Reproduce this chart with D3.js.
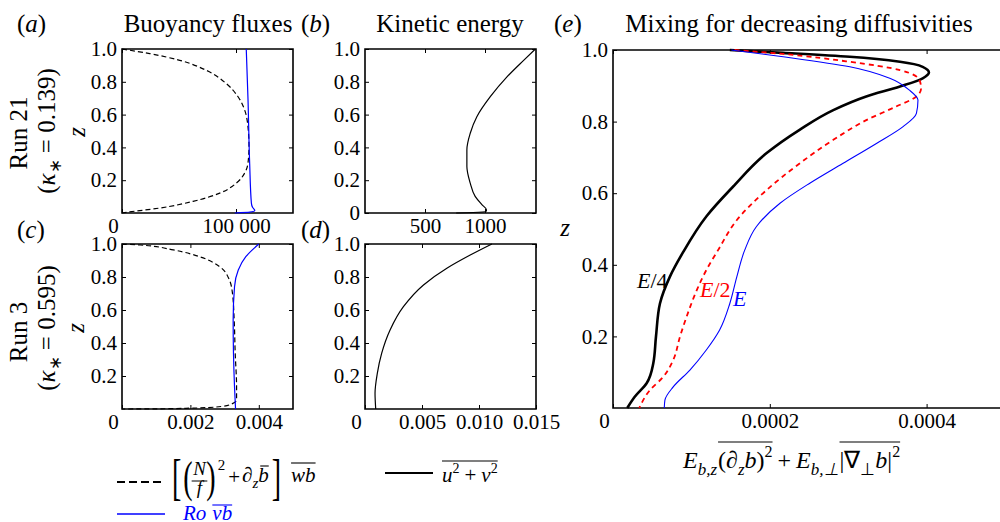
<!DOCTYPE html>
<html>
<head>
<meta charset="utf-8">
<script src="https://cdn.jsdelivr.net/npm/d3@7"></script>
<style>
  body { margin: 0; background: #fff; }
  svg { display: block; }
</style>
</head>
<body>
<div id="chart"></div>
<script>
// profiles, as [x, z] pairs, listed from z = 1 down to z = 0

// (a) Run 21 buoyancy fluxes
const run21Buoy = [[0, 1], [24300, 0.972], [50600, 0.931], [74000, 0.870], [91500, 0.789], [101800, 0.709],
  [107600, 0.628], [110500, 0.526], [111400, 0.405], [110500, 0.304], [107600, 0.243], [100300, 0.182],
  [85700, 0.121], [62300, 0.071], [33000, 0.030], [3800, 0.004], [0, 0]];
const run21Ro = [[109000, 1], [110500, 0.7], [112000, 0.3], [113500, 0.06], [114500, 0.035],
  [116500, 0.015], [112000, 0.005], [99000, 0]];

// (b) Run 21 kinetic energy
const run21KE = [[1420, 1.0], [1322, 0.931], [1183, 0.83], [1044, 0.709], [932, 0.587], [877, 0.486],
  [849, 0.385], [849, 0.283], [877, 0.182], [918, 0.101], [974, 0.051], [1012, 0.02], [1010, 0.01],
  [900, 0.003], [760, 0]];

// (c) Run 3 buoyancy fluxes
const run3Buoy = [[0, 1], [0.00053, 0.994], [0.0015, 0.964], [0.00227, 0.923], [0.00285, 0.863],
  [0.00314, 0.782], [0.00323, 0.701], [0.00328, 0.539], [0.00331, 0.337], [0.00335, 0.135],
  [0.00335, 0.055], [0.0032, 0.03], [0.0029, 0.015], [0.002, 0.005], [0.001, 0.001], [0, 0]];
const run3Ro = [[0.004, 1], [0.00362, 0.923], [0.0034, 0.842], [0.00329, 0.741], [0.00325, 0.539],
  [0.00326, 0.337], [0.00329, 0.135], [0.00332, 0]];

// (d) Run 3 kinetic energy
const run3KE = [[0.01113, 1.0], [0.00923, 0.933], [0.00718, 0.853], [0.00513, 0.752], [0.00337, 0.62],
  [0.0022, 0.479], [0.00146, 0.337], [0.00108, 0.216], [0.00088, 0.095], [0.00094, 0]];

// (e) mixing, x values in units of 1e-4
const mixQuarter = [[1.49, 1.0], [2.17, 0.992], [3.02, 0.981], [3.66, 0.967], [3.95, 0.953], [4.03, 0.937],
  [3.95, 0.921], [3.66, 0.898], [3.23, 0.87], [2.81, 0.832], [2.38, 0.777], [1.96, 0.712], [1.53, 0.618],
  [1.19, 0.535], [0.896, 0.436], [0.726, 0.367], [0.599, 0.292], [0.548, 0.199], [0.514, 0.125],
  [0.429, 0.069], [0.28, 0.032], [0.182, 0]];
const mixHalf = [[1.55, 1.0], [2.17, 0.989], [3.02, 0.967], [3.66, 0.944], [3.91, 0.916], [3.93, 0.893],
  [3.87, 0.87], [3.61, 0.842], [3.23, 0.804], [2.81, 0.749], [2.38, 0.683], [1.96, 0.609], [1.58, 0.525],
  [1.34, 0.441], [1.19, 0.385], [1.07, 0.33], [0.939, 0.255], [0.854, 0.199], [0.768, 0.134],
  [0.641, 0.087], [0.471, 0.05], [0.335, 0]];
const mixFull = [[1.51, 1.0], [2.17, 0.981], [3.02, 0.953], [3.53, 0.921], [3.78, 0.888], [3.89, 0.86],
  [3.87, 0.823], [3.70, 0.786], [3.36, 0.739], [2.93, 0.683], [2.51, 0.628], [2.13, 0.572], [1.83, 0.507],
  [1.68, 0.441], [1.58, 0.367], [1.49, 0.292], [1.36, 0.218], [1.19, 0.162], [0.981, 0.106],
  [0.768, 0.059], [0.662, 0.022], [0.654, 0]];

// ticks
const zTicks = [0.2, 0.4, 0.6, 0.8, 1.0];
const zTicksWithZero = [0, 0.2, 0.4, 0.6, 0.8, 1.0];
const ticksA = [0, 100000];
const ticksB = [500, 1000];
const ticksC = [0, 0.002, 0.004];
const ticksD = [0, 0.005, 0.010, 0.015];
const ticksE = [0, 2, 4];   // x 1e-4

const FONT = "'Liberation Serif', 'Times New Roman', serif";
const W = 1000, H = 522;

const svg = d3.select("#chart").append("svg")
  .attr("width", W).attr("height", H)
  .attr("font-family", FONT);
svg.append("rect").attr("width", W).attr("height", H).attr("fill", "#fff");

const zFmt = d => d === 0 ? "0" : d3.format(".1f")(d);

function makePanel(cfg) {
  const x = d3.scaleLinear().domain(cfg.xDomain).range([cfg.left, cfg.right]);
  const y = d3.scaleLinear().domain([0, 1]).range([cfg.bottom, cfg.top]);
  const g = svg.append("g");

  const bottom = g.append("g").attr("transform", `translate(0,${cfg.bottom})`)
    .call(d3.axisBottom(x).tickValues(cfg.xTicks).tickFormat(cfg.xFormat).tickSize(-4).tickPadding(5));
  g.append("g").attr("transform", `translate(0,${cfg.top})`)
    .call(d3.axisTop(x).tickValues(cfg.xTicks).tickFormat("").tickSize(-4));
  g.append("g").attr("transform", `translate(${cfg.left},0)`)
    .call(d3.axisLeft(y).tickValues(cfg.yTicks).tickFormat(zFmt).tickSize(-4).tickPadding(5));
  if (!cfg.openRight) {
    g.append("g").attr("transform", `translate(${cfg.right},0)`)
      .call(d3.axisRight(y).tickValues(cfg.yTicks).tickFormat("").tickSize(-4));
  }
  g.selectAll(".domain").remove();
  g.selectAll(".tick line").attr("stroke", "#000").attr("stroke-width", 1);
  g.selectAll(".tick text").attr("font-family", FONT).attr("font-size", 21).attr("fill", "#000");
  g.selectAll("g").attr("font-family", null).attr("font-size", null);
  // the zero on the x axis sits a little left of the corner
  bottom.selectAll(".tick text").filter(d => d === 0).attr("x", -9);

  // frame
  const frame = g.append("path")
    .attr("fill", "none").attr("stroke", "#000").attr("stroke-width", 1.6);
  if (cfg.openRight) {
    frame.attr("d", `M${cfg.right},${cfg.top}H${cfg.left}V${cfg.bottom}H${cfg.right}`);
  } else {
    frame.attr("d", `M${cfg.left},${cfg.top}H${cfg.right}V${cfg.bottom}H${cfg.left}Z`);
  }

  const line = d3.line().x(d => x(d[0])).y(d => y(d[1])).curve(d3.curveMonotoneY);
  cfg.series.forEach(s => {
    g.append("path").datum(s.data)
      .attr("fill", "none")
      .attr("stroke", s.color)
      .attr("stroke-width", s.width)
      .attr("stroke-dasharray", s.dash || null)
      .attr("d", line);
  });
  return { x, y, g };
}

makePanel({
  left: 122, right: 293, top: 49, bottom: 213, xDomain: [0, 150000],
  xTicks: ticksA, xFormat: d => d === 0 ? "0" : "100 000", yTicks: zTicks,
  series: [
    { data: run21Buoy, color: "#000", width: 1.2, dash: "5,3" },
    { data: run21Ro, color: "#0000ff", width: 1.2 }
  ]
});
makePanel({
  left: 365, right: 536, top: 49, bottom: 213, xDomain: [0, 1425],
  xTicks: ticksB, xFormat: d3.format("d"), yTicks: zTicksWithZero,
  series: [{ data: run21KE, color: "#000", width: 1.2 }]
});
makePanel({
  left: 122, right: 293, top: 244, bottom: 409, xDomain: [0, 0.005],
  xTicks: ticksC, xFormat: d => d === 0 ? "0" : d3.format(".3f")(d), yTicks: zTicks,
  series: [
    { data: run3Buoy, color: "#000", width: 1.2, dash: "5,3" },
    { data: run3Ro, color: "#0000ff", width: 1.2 }
  ]
});
makePanel({
  left: 365, right: 536, top: 244, bottom: 409, xDomain: [0, 0.015],
  xTicks: ticksD, xFormat: d => d === 0 ? "0" : d3.format(".3f")(d), yTicks: zTicks,
  series: [{ data: run3KE, color: "#000", width: 1.2 }]
});
makePanel({
  left: 613, right: 1005, top: 50, bottom: 408, xDomain: [0, 5], openRight: true,
  xTicks: ticksE, xFormat: d => d === 0 ? "0" : d3.format(".4f")(d * 1e-4), yTicks: zTicks,
  series: [
    { data: mixQuarter, color: "#000", width: 2.6 },
    { data: mixHalf, color: "#ff0000", width: 1.8, dash: "5,4" },
    { data: mixFull, color: "#0000ff", width: 1.1 }
  ]
});

// ---- text helpers ----
function label(x, y, parts, opts = {}) {
  const t = svg.append("text")
    .attr("x", x).attr("y", y)
    .attr("font-size", opts.size || 25)
    .attr("fill", opts.color || "#000")
    .attr("text-anchor", opts.anchor || "start");
  if (opts.rotate) t.attr("x", 0).attr("y", 0).attr("transform", `translate(${x},${y}) rotate(-90)`);
  parts.forEach(p => {
    const s = t.append("tspan").text(p.t);
    if (p.it) s.attr("font-style", "italic");
    if (p.size) s.attr("font-size", p.size);
    if (p.dy) s.attr("dy", p.dy);
  });
  return t;
}

// run pieces left to right, measuring each one; returns the x extents of every piece
function typeset(x0, y0, pieces, size, color) {
  const g = svg.append("g").attr("fill", color);
  let x = x0;
  const ext = [];
  pieces.forEach(p => {
    if (p.frac) {
      const fs = p.size || size;
      const a = g.append("text").attr("font-size", fs).attr("font-style", "italic")
        .attr("text-anchor", "middle").text(p.frac[0]);
      const b = g.append("text").attr("font-size", fs).attr("font-style", "italic")
        .attr("text-anchor", "middle").text(p.frac[1]);
      const w = Math.max(a.node().getComputedTextLength(), b.node().getComputedTextLength()) + 3;
      a.attr("x", x + w / 2).attr("y", y0 + p.up);
      b.attr("x", x + w / 2).attr("y", y0 + p.down);
      g.append("line").attr("x1", x).attr("x2", x + w).attr("y1", y0 + p.bar).attr("y2", y0 + p.bar)
        .attr("stroke", color).attr("stroke-width", 1);
      ext.push([x, x + w]);
      x += w + (p.gap || 0);
      return;
    }
    const t = g.append("text").attr("font-size", p.size || size).text(p.t);
    if (p.sy) {
      t.attr("transform", `translate(${x},${y0 + (p.dy || 0)}) scale(1,${p.sy})`);
    } else {
      t.attr("x", x).attr("y", y0 + (p.dy || 0));
    }
    if (p.it) t.attr("font-style", "italic");
    const w = t.node().getComputedTextLength();
    ext.push([x, x + w]);
    x += w + (p.gap || 0);
  });
  return { g, ext };
}
function overline(g, ext, i0, i1, y, color, pad = 0) {
  g.append("line").attr("x1", ext[i0][0] + pad).attr("x2", ext[i1][1]).attr("y1", y).attr("y2", y)
    .attr("stroke", color).attr("stroke-width", 1.1);
}

// panel letters and titles
label(17, 32, [{ t: "(" }, { t: "a", it: true }, { t: ")" }]);
label(208, 32, [{ t: "Buoyancy fluxes" }], { anchor: "middle" });
label(301, 32, [{ t: "(" }, { t: "b", it: true }, { t: ")" }]);
label(450, 32, [{ t: "Kinetic energy" }], { anchor: "middle" });
label(554, 32, [{ t: "(" }, { t: "e", it: true }, { t: ")" }]);
label(799, 32, [{ t: "Mixing for decreasing diffusivities" }], { anchor: "middle" });
label(17, 238, [{ t: "(" }, { t: "c", it: true }, { t: ")" }]);
label(301, 238, [{ t: "(" }, { t: "d", it: true }, { t: ")" }]);

// row labels
label(27, 133, [{ t: "Run 21" }], { anchor: "middle", rotate: true });
label(55, 131, [{ t: "(" }, { t: "κ", it: true }, { t: "∗", size: 17, dy: 6 }, { t: " = 0.139)", dy: -6 }], { anchor: "middle", rotate: true });
label(85, 132, [{ t: "z", it: true }], { anchor: "middle", rotate: true });
label(27, 332, [{ t: "Run 3" }], { anchor: "middle", rotate: true });
label(55, 328, [{ t: "(" }, { t: "κ", it: true }, { t: "∗", size: 17, dy: 6 }, { t: " = 0.595)", dy: -6 }], { anchor: "middle", rotate: true });
label(84, 328, [{ t: "z", it: true }], { anchor: "middle", rotate: true });
label(565, 236, [{ t: "z", it: true }], { anchor: "middle" });

// curve labels in (e)
label(637, 288, [{ t: "E", it: true }, { t: "/4" }], { size: 22 });
label(700, 297, [{ t: "E", it: true }, { t: "/2" }], { size: 22, color: "#ff0000" });
label(733, 306, [{ t: "E", it: true }], { size: 22, color: "#0000ff" });

// x label of (e)
{
  const r = typeset(683, 468, [
    { t: "E", it: true }, { t: "b,z", it: true, size: 17, dy: 7, gap: 1 },
    { t: "(∂" }, { t: "z", it: true, size: 17, dy: 7 }, { t: "b", it: true }, { t: ")" },
    { t: "2", size: 16, dy: -11, gap: 5 },
    { t: "+", gap: 5 },
    { t: "E", it: true }, { t: "b,⊥", it: true, size: 17, dy: 7, gap: 1 },
    { t: "|∇" }, { t: "⊥", size: 17, dy: 7 }, { t: "b", it: true }, { t: "|" },
    { t: "2", size: 16, dy: -11 }
  ], 24, "#000");
  overline(r.g, r.ext, 2, 6, 442, "#000");
  overline(r.g, r.ext, 10, 14, 442, "#000");
}

// legend
svg.append("line").attr("x1", 117).attr("x2", 161).attr("y1", 482).attr("y2", 482)
  .attr("stroke", "#000").attr("stroke-width", 2.2).attr("stroke-dasharray", "8,4");
{
  const r = typeset(172, 482, [
    { t: "[", size: 28, sy: 1.8, dy: 12, gap: 2 },
    { t: "(", size: 28, sy: 1.6, dy: 10, gap: -1 },
    { frac: ["N", "f"], size: 19, up: -7, down: 12, bar: -1, gap: -1 },
    { t: ")", size: 28, sy: 1.6, dy: 10, gap: 2 },
    { t: "2", size: 15, dy: -12, gap: 3 },
    { t: "+", dy: 2, gap: 2 },
    { t: "∂" }, { t: "z", it: true, size: 15, dy: 6 }, { t: "b", it: true, gap: 3 },
    { t: "]", size: 28, sy: 1.8, dy: 12, gap: 10 },
    { t: "wb", it: true }
  ], 21, "#000");
  // bar over b and over wb
  overline(r.g, r.ext, 8, 8, 466, "#000", 2);
  overline(r.g, r.ext, 10, 10, 463, "#000");
}
svg.append("line").attr("x1", 385).attr("x2", 433).attr("y1", 473).attr("y2", 473)
  .attr("stroke", "#000").attr("stroke-width", 2.2);
{
  const r = typeset(442, 482, [
    { t: "u", it: true }, { t: "2", size: 14, dy: -9, gap: 5 },
    { t: "+", gap: 5 },
    { t: "v", it: true }, { t: "2", size: 14, dy: -9 }
  ], 21, "#000");
  overline(r.g, r.ext, 0, 4, 461, "#000");
}
svg.append("line").attr("x1", 117).attr("x2", 165).attr("y1", 514).attr("y2", 514)
  .attr("stroke", "#0000ff").attr("stroke-width", 1.6);
{
  const r = typeset(183, 520, [
    { t: "Ro", it: true, gap: 6 }, { t: "vb", it: true }
  ], 21, "#0000ff");
  overline(r.g, r.ext, 1, 1, 505, "#0000ff");
}
</script>
</body>
</html>
